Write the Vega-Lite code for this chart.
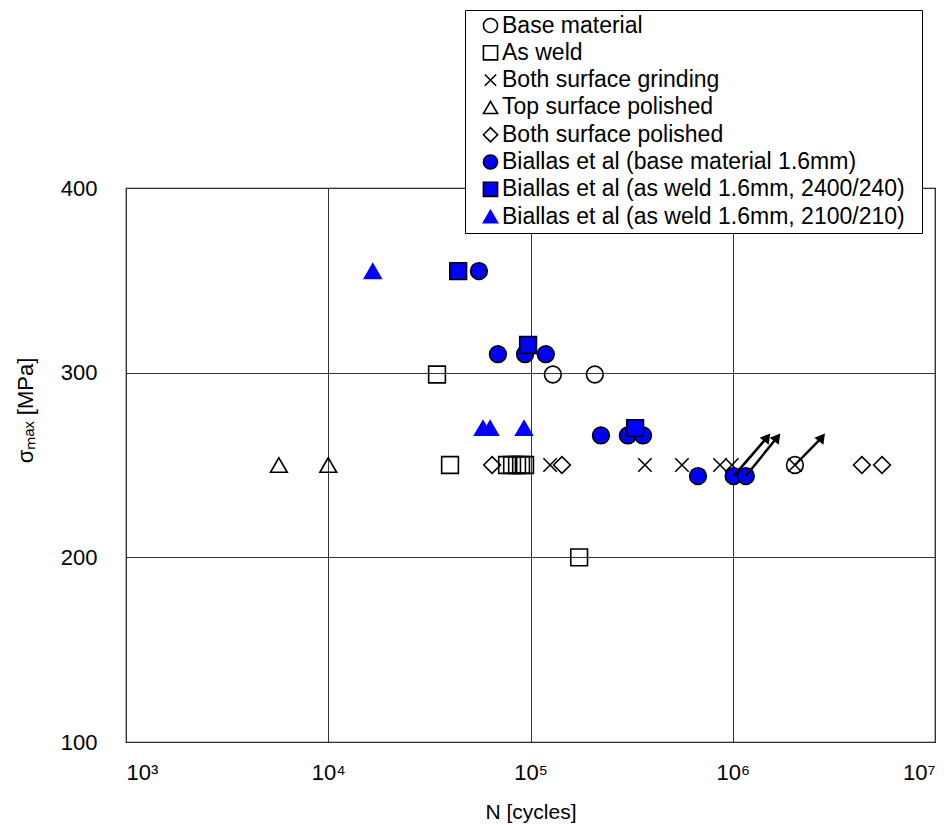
{
  "$schema": "https://vega.github.io/schema/vega-lite/v6.json",
  "width": 809,
  "height": 554,
  "autosize": {"type": "none"},
  "padding": {"left": 126, "top": 188, "right": 14, "bottom": 83},
  "background": "white",
  "config": {
    "font": "Liberation Sans",
    "view": {"stroke": "black", "strokeWidth": 1.2},
    "axis": {
      "grid": true,
      "gridColor": "#333333",
      "gridWidth": 1,
      "domain": false,
      "ticks": false,
      "labelFontSize": 22,
      "labelColor": "black",
      "titleFontSize": 21,
      "titleFontWeight": "normal",
      "titleColor": "black"
    }
  },
  "datasets": {
    "pts": [
      {"series": "Base material", "N": 129000, "sigma": 299},
      {"series": "Base material", "N": 208000, "sigma": 299},
      {"series": "Base material", "N": 2030000, "sigma": 250},
      {"series": "As weld", "N": 34500, "sigma": 299},
      {"series": "As weld", "N": 40000, "sigma": 250},
      {"series": "As weld", "N": 76600, "sigma": 250},
      {"series": "As weld", "N": 81100, "sigma": 250},
      {"series": "As weld", "N": 85800, "sigma": 250},
      {"series": "As weld", "N": 89800, "sigma": 250},
      {"series": "As weld", "N": 94000, "sigma": 250},
      {"series": "As weld", "N": 174000, "sigma": 200},
      {"series": "Both surface grinding", "N": 125000, "sigma": 250},
      {"series": "Both surface grinding", "N": 368000, "sigma": 250},
      {"series": "Both surface grinding", "N": 561000, "sigma": 250},
      {"series": "Both surface grinding", "N": 865000, "sigma": 250},
      {"series": "Both surface grinding", "N": 990000, "sigma": 250},
      {"series": "Both surface grinding", "N": 2030000, "sigma": 250},
      {"series": "Top surface polished", "N": 5700, "sigma": 250},
      {"series": "Top surface polished", "N": 10000, "sigma": 250},
      {"series": "Both surface polished", "N": 64600, "sigma": 250},
      {"series": "Both surface polished", "N": 143000, "sigma": 250},
      {"series": "Both surface polished", "N": 4350000, "sigma": 250},
      {"series": "Both surface polished", "N": 5470000, "sigma": 250},
      {"series": "Biallas et al (base material 1.6mm)", "N": 55600, "sigma": 355},
      {"series": "Biallas et al (base material 1.6mm)", "N": 69000, "sigma": 310},
      {"series": "Biallas et al (base material 1.6mm)", "N": 94000, "sigma": 310},
      {"series": "Biallas et al (base material 1.6mm)", "N": 119000, "sigma": 310},
      {"series": "Biallas et al (base material 1.6mm)", "N": 223000, "sigma": 266},
      {"series": "Biallas et al (base material 1.6mm)", "N": 303000, "sigma": 266},
      {"series": "Biallas et al (base material 1.6mm)", "N": 360000, "sigma": 266},
      {"series": "Biallas et al (base material 1.6mm)", "N": 673000, "sigma": 244},
      {"series": "Biallas et al (base material 1.6mm)", "N": 1010000, "sigma": 244},
      {"series": "Biallas et al (base material 1.6mm)", "N": 1160000, "sigma": 244},
      {"series": "Biallas et al (as weld 1.6mm, 2400/240)", "N": 43900, "sigma": 355},
      {"series": "Biallas et al (as weld 1.6mm, 2400/240)", "N": 97300, "sigma": 315},
      {"series": "Biallas et al (as weld 1.6mm, 2400/240)", "N": 329000, "sigma": 270},
      {"series": "Biallas et al (as weld 1.6mm, 2100/210)", "N": 16600, "sigma": 355},
      {"series": "Biallas et al (as weld 1.6mm, 2100/210)", "N": 58200, "sigma": 270},
      {"series": "Biallas et al (as weld 1.6mm, 2100/210)", "N": 63100, "sigma": 270},
      {"series": "Biallas et al (as weld 1.6mm, 2100/210)", "N": 92900, "sigma": 270}
    ],
    "arrows": [
      {"N": 1010000, "sigma": 244, "N2": 1480000, "sigma2": 265},
      {"N": 1160000, "sigma": 244, "N2": 1660000, "sigma2": 265},
      {"N": 2030000, "sigma": 250, "N2": 2760000, "sigma2": 265}
    ]
  },
  "layer": [
    {
      "data": {"name": "pts"},
      "mark": {"type": "point", "size": 280, "strokeWidth": 1.6, "opacity": 1},
      "encoding": {
        "x": {
          "field": "N",
          "type": "quantitative",
          "scale": {"type": "log", "domain": [1000, 10000000], "nice": false},
          "axis": {
            "values": [1000, 10000, 100000, 1000000, 10000000],
            "labelExpr": "datum.value == 1000 ? '10³' : datum.value == 10000 ? '10⁴' : datum.value == 100000 ? '10⁵' : datum.value == 1000000 ? '10⁶' : '10⁷'",
            "labelPadding": 20,
            "title": "N [cycles]",
            "titlePadding": 18
          }
        },
        "y": {
          "field": "sigma",
          "type": "quantitative",
          "scale": {"domain": [100, 400], "nice": false, "zero": false},
          "axis": {
            "values": [100, 200, 300, 400],
            "labelPadding": 29,
            "title": "σₘₐₓ   [MPa]",
            "titleFontSize": 22,
            "titleX": -101,
            "titleY": 222,
            "titleAngle": -90,
            "titleAlign": "center",
            "titleBaseline": "middle"
          }
        },
        "shape": {
          "field": "series",
          "type": "nominal",
          "scale": {
            "domain": ["Base material", "As weld", "Both surface grinding", "Top surface polished", "Both surface polished", "Biallas et al (base material 1.6mm)", "Biallas et al (as weld 1.6mm, 2400/240)", "Biallas et al (as weld 1.6mm, 2100/210)"],
            "range": ["circle", "square", "M-0.8,-0.8L0.8,0.8M-0.8,0.8L0.8,-0.8", "triangle-up", "diamond", "circle", "square", "triangle-up"]
          },
          "legend": {
            "orient": "none",
            "legendX": 339,
            "legendY": -178,
            "title": null,
            "fillColor": "white",
            "strokeColor": "black",
            "padding": 4,
            "labelFontSize": 23,
            "labelColor": "black",
            "labelLimit": 600,
            "labelOffset": 0,
            "symbolOffset": 10,
            "symbolSize": 200,
            "symbolStrokeWidth": 1.6,
            "rowPadding": 3.3,
            "labelExpr": "datum.label + '\u00a0\u00a0\u200b'"
          }
        },
        "fill": {
          "field": "series",
          "type": "nominal",
          "scale": {
            "domain": ["Base material", "As weld", "Both surface grinding", "Top surface polished", "Both surface polished", "Biallas et al (base material 1.6mm)", "Biallas et al (as weld 1.6mm, 2400/240)", "Biallas et al (as weld 1.6mm, 2100/210)"],
            "range": ["transparent", "transparent", "transparent", "transparent", "transparent", "#0000FF", "#0000FF", "#0000FF"]
          },
          "legend": {
            "orient": "none",
            "legendX": 339,
            "legendY": -178,
            "title": null
          }
        },
        "stroke": {
          "field": "series",
          "type": "nominal",
          "scale": {
            "domain": ["Base material", "As weld", "Both surface grinding", "Top surface polished", "Both surface polished", "Biallas et al (base material 1.6mm)", "Biallas et al (as weld 1.6mm, 2400/240)", "Biallas et al (as weld 1.6mm, 2100/210)"],
            "range": ["black", "black", "black", "black", "black", "black", "black", "#0000FF"]
          },
          "legend": {
            "orient": "none",
            "legendX": 339,
            "legendY": -178,
            "title": null
          }
        }
      }
    },
    {
      "data": {"name": "arrows"},
      "mark": {"type": "rule", "color": "black", "strokeWidth": 2.5},
      "encoding": {
        "x": {"field": "N", "type": "quantitative"},
        "y": {"field": "sigma", "type": "quantitative"},
        "x2": {"field": "N2"},
        "y2": {"field": "sigma2"}
      }
    },
    {
      "data": {"name": "arrows"},
      "mark": {"type": "point", "shape": "triangle-up", "angle": 38, "size": 130, "filled": true, "color": "black", "opacity": 1},
      "encoding": {
        "x": {"field": "N2", "type": "quantitative"},
        "y": {"field": "sigma2", "type": "quantitative"}
      }
    }
  ]
}
